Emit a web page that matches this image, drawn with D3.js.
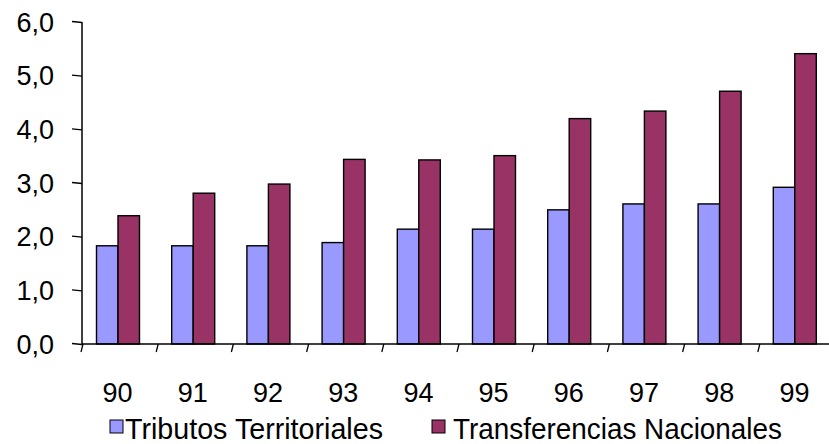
<!DOCTYPE html>
<html><head><meta charset="utf-8">
<script src="https://cdn.jsdelivr.net/npm/d3@7/dist/d3.min.js"></script>
<style>html,body{margin:0;padding:0;background:#fff;}svg{display:block;font-family:"Liberation Sans",Arial,sans-serif;}</style>
</head><body>
<svg id="c" width="829" height="444"></svg>
<script>
const categories = ["90","91","92","93","94","95","96","97","98","99"];
const seriesNames = ["Tributos Territoriales","Transferencias Nacionales"];
const tributos = [1.83,1.83,1.83,1.89,2.14,2.14,2.50,2.61,2.61,2.92];
const transferencias = [2.39,2.81,2.98,3.44,3.43,3.51,4.20,4.34,4.71,5.41];
const yTicks = [0,1,2,3,4,5,6];
const colors = ["#9999FF","#993366"];

const svg = d3.select("#c");
const x0 = d3.scaleBand().domain(categories).range([82, 834]).padding(0);
const x1 = d3.scaleBand().domain(seriesNames).range([14.5, 57.5]).padding(0);
const y = d3.scaleLinear().domain([0, 6]).range([344, 22]);
const fmt = v => d3.format(".1f")(v).replace(".", ",");

const values = [tributos, transferencias];

// bars
const g = svg.append("g");
categories.forEach((c, i) => {
  seriesNames.forEach((s, k) => {
    g.append("rect")
      .attr("x", x0(c) + x1(s))
      .attr("y", y(values[k][i]))
      .attr("width", x1.bandwidth())
      .attr("height", y(0) - y(values[k][i]))
      .attr("fill", colors[k])
      .attr("stroke", "#000")
      .attr("stroke-width", 1.4);
  });
});

// y axis
svg.append("line").attr("x1", 82).attr("x2", 82).attr("y1", y(6)).attr("y2", y(0) + 1)
  .attr("stroke", "#000").attr("stroke-width", 1.5);
yTicks.forEach(t => {
  svg.append("line").attr("x1", 72).attr("x2", 82).attr("y1", y(t) - 0.5).attr("y2", y(t) + 0.5)
    .attr("stroke", "#000").attr("stroke-width", 1.3);
  svg.append("text").attr("x", 54).attr("y", y(t)).attr("dy", "0.36em")
    .attr("text-anchor", "end").attr("font-size", 27).attr("fill", "#000").text(fmt(t));
});

// x axis
svg.append("line").attr("x1", 82).attr("x2", 829).attr("y1", y(0)).attr("y2", y(0))
  .attr("stroke", "#000").attr("stroke-width", 1.5);
categories.forEach(c => {
  const xx = x0(c);
  svg.append("line").attr("x1", xx + 1).attr("x2", xx - 1).attr("y1", y(0)).attr("y2", y(0) + 8)
    .attr("stroke", "#000").attr("stroke-width", 1.3);
  svg.append("text").attr("x", xx + x0.bandwidth() / 2 - 2).attr("y", 402)
    .attr("text-anchor", "middle").attr("font-size", 27).attr("fill", "#000").text(c);
});

// legend
const legendPos = [{sx: 110, tx: 125, w: 258}, {sx: 432, tx: 453, w: 329}];
seriesNames.forEach((s, k) => {
  const p = legendPos[k];
  svg.append("rect").attr("x", p.sx).attr("y", 420).attr("width", 13).attr("height", 13)
    .attr("fill", colors[k]).attr("stroke", "#000").attr("stroke-width", 1);
  svg.append("text").attr("x", p.tx).attr("y", 439).attr("font-size", 29)
    .attr("textLength", p.w).attr("lengthAdjust", "spacingAndGlyphs")
    .attr("fill", "#000").text(s);
});
</script>
</body></html>
